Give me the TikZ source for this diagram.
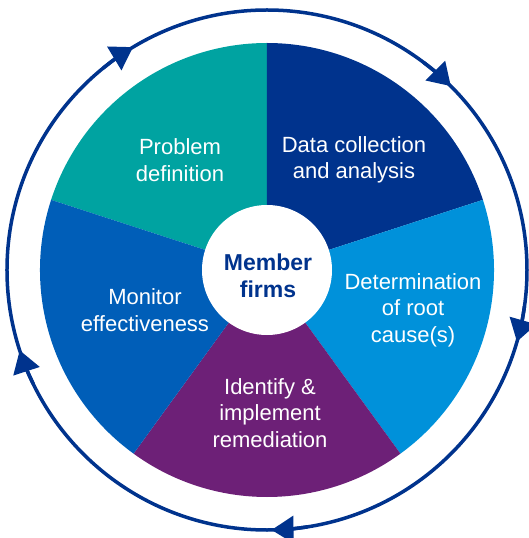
\documentclass[tikz,border=0pt]{standalone}
\usepackage{fontspec}
\setmainfont{Liberation Sans}
\usetikzlibrary{arrows.meta}
\definecolor{kteal}{HTML}{00A3A1}
\definecolor{kdark}{HTML}{00338D}
\definecolor{klight}{HTML}{0091DA}
\definecolor{kmid}{HTML}{005EB8}
\definecolor{kpurple}{HTML}{6D2077}

\begin{document}
\begin{tikzpicture}[x=1pt,y=1pt,
    steplabel/.style={text=white,align=center,font=\fontsize{22}{26.5}\selectfont},
    ring/.style={draw=kdark,line width=3.5pt}]
    \useasboundingbox (-267,-268) rectangle (261,270);
    % outer cycle with arrows
    \draw[ring] (0,0) circle (260);
    \foreach \a in {121,45,-16,-89,198}
        \draw[ring,-{Triangle[length=22pt,width=27pt]}] (\a+8:260) arc (\a+8:\a:260);
    % five segments
    \fill[kteal] (0,0) -- (162:227) arc (162:90:227) -- cycle;
    \fill[kdark] (0,0) -- (90:227) arc (90:18:227) -- cycle;
    \fill[klight] (0,0) -- (18:227) arc (18:-54:227) -- cycle;
    \fill[kpurple] (0,0) -- (-54:227) arc (-54:-126:227) -- cycle;
    \fill[kmid] (0,0) -- (-126:227) arc (-126:-198:227) -- cycle;
    \fill[white] (0,0) circle (65);
    \node[steplabel] (prob) at (-87,110) {Problem\\definition};
    \node[steplabel] (data) at (87,110) {Data collection\\and analysis};
    \node[steplabel] (cause) at (146,-40) {Determination\\of root\\cause(s)};
    \node[steplabel] (fix) at (3,-143) {Identify \&\\implement\\remediation};
    \node[steplabel] (mon) at (-122,-40) {Monitor\\effectiveness};
    \node[align=center,text=kdark,font=\fontsize{23}{26.5}\selectfont\bfseries] (firms) at (1,-6) {Member\\firms};
\end{tikzpicture}
\end{document}
